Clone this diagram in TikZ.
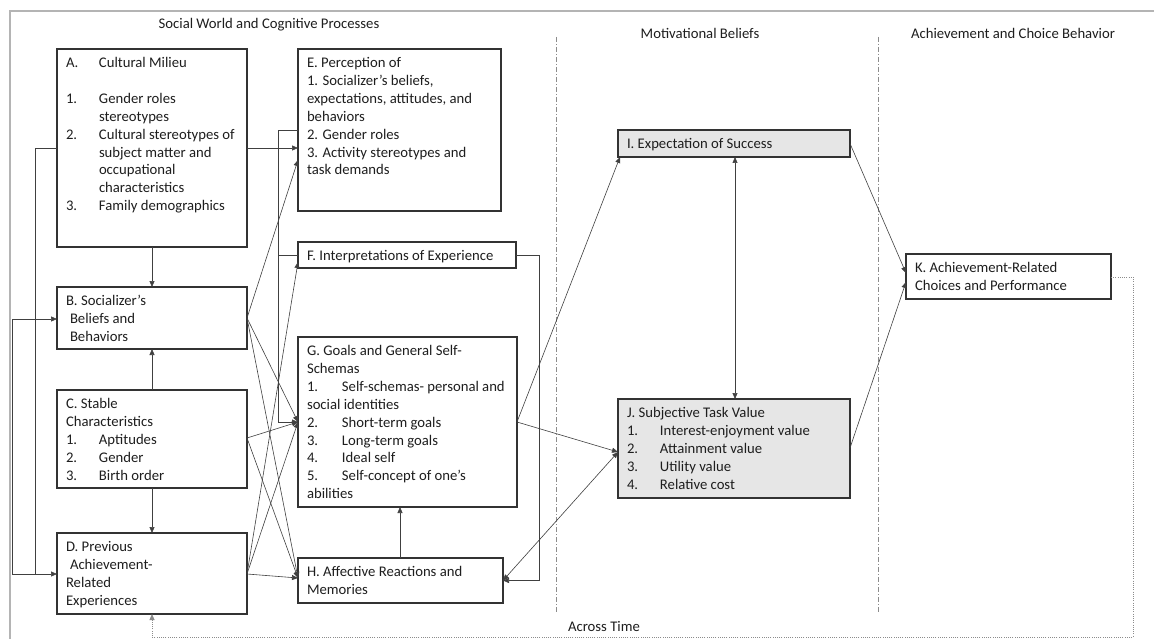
\documentclass[tikz,border=0pt]{standalone}
\usepackage{fontspec}
\setmainfont{Carlito}
\usetikzlibrary{arrows.meta,calc}
\definecolor{framec}{HTML}{B4B4B4}
\definecolor{boxc}{HTML}{333333}
\definecolor{linec}{HTML}{404040}
\definecolor{fillc}{HTML}{E6E6E6}
\definecolor{sepc}{HTML}{8C8C8C}
\definecolor{txtc}{HTML}{1E1E1E}
% box body: fixed width and height, text set from the top left
\newcommand\boxtext[3]{\makebox[#1][l]{\parbox[c][#2][t]{400pt}{\raggedright\strut#3}}}
% numbered item label in a fixed-width slot
\newcommand\itm[2][33pt]{\makebox[#1][l]{#2}}

\begin{document}
\begin{tikzpicture}[x=1pt,y=-1pt,
  font=\fontsize{14.7}{17.9}\selectfont, text=txtc,
  box/.style={draw=boxc, line width=1.2pt, anchor=north west,
    inner xsep=9pt, inner ysep=6pt, outer sep=0pt},
  shaded/.style={box, fill=fillc},
  conn/.style={draw=linec, line width=0.6pt},
  arr/.style={conn, -{Triangle[length=6pt,width=5pt]}},
  darr/.style={conn, {Triangle[length=6pt,width=5pt]}-{Triangle[length=6pt,width=5pt]}},
  heading/.style={inner sep=0pt},
  sep/.style={draw=sepc, line width=0.6pt, dash pattern=on 5pt off 2pt on 1pt off 2pt},
  timeline/.style={draw=sepc, line width=0.8pt, dash pattern=on 1pt off 1.2pt}
]
\useasboundingbox (0,0) rectangle (1154,639);
\fill[white] (0,0) rectangle (1154,639);
\draw[framec, line width=2.5pt] (10,660) -- (10,11) -- (1170,11);

% column headings
\node[heading] (hSocial) at (269,25) {Social World and Cognitive Processes};
\node[heading] (hMot) at (700,33) {Motivational Beliefs};
\node[heading] (hAch) at (1013,33) {Achievement and Choice Behavior};

% column separators
\draw[sep] (556,37) -- (556,613);
\draw[sep] (878,37) -- (878,613);

% social world boxes
\node[box] (A) at (57,49) {\boxtext{172pt}{186pt}{\itm{A.}Cultural Milieu\\[17.9pt]
  \itm{1.}Gender roles\\ \itm{}stereotypes\\
  \itm{2.}Cultural stereotypes of\\ \itm{}subject matter and\\ \itm{}occupational\\ \itm{}characteristics\\
  \itm{3.}Family demographics}};
\node[box] (B) at (57,287) {\boxtext{172pt}{50pt}{B. Socializer’s\\ \hspace*{4pt}Beliefs and\\ \hspace*{4pt}Behaviors}};
\node[box] (C) at (57,390) {\boxtext{172pt}{86pt}{C. Stable\\ Characteristics\\
  \itm{1.}Aptitudes\\ \itm{2.}Gender\\ \itm{3.}Birth order}};
\node[box] (D) at (57,533) {\boxtext{172pt}{69pt}{D. Previous\\ \hspace*{4pt}Achievement-\\ Related\\ Experiences}};

% cognitive process boxes
\node[box] (E) at (298,49) {\boxtext{185pt}{150pt}{E. Perception of\\ 1. Socializer’s beliefs,\\
  expectations, attitudes, and\\ behaviors\\ 2. Gender roles\\ 3. Activity stereotypes and\\ task demands}};
\node[box] (F) at (298,242) {\boxtext{200pt}{14pt}{F. Interpretations of Experience}};
\node[box] (G) at (298,337) {\boxtext{201pt}{158pt}{G. Goals and General Self-\\ Schemas\\
  \itm[35pt]{1.}Self-schemas- personal and\\ social identities\\
  \itm[35pt]{2.}Short-term goals\\ \itm[35pt]{3.}Long-term goals\\ \itm[35pt]{4.}Ideal self\\
  \itm[35pt]{5.}Self-concept of one’s\\ abilities}};
\node[box] (H) at (298,558) {\boxtext{187pt}{33pt}{H. Affective Reactions and\\ Memories}};

% motivational beliefs
\node[shaded] (I) at (618,130) {\boxtext{214pt}{15pt}{I. Expectation of Success}};
\node[shaded] (J) at (618,399) {\boxtext{214pt}{87pt}{J. Subjective Task Value\\
  \itm{1.}Interest-enjoyment value\\ \itm{2.}Attainment value\\ \itm{3.}Utility value\\ \itm{4.}Relative cost}};

% achievement and choice behavior
\node[box] (K) at (906,254) {\boxtext{187pt}{33pt}{K. Achievement-Related\\ Choices and Performance}};

% attachment points
\coordinate (bOut) at ($(B.north east)+(0,31)$);
\coordinate (cOut) at ($(C.north east)+(0,48)$);
\coordinate (dOut) at ($(D.north east)+(0,41)$);
\coordinate (eIn) at ($(E.north west)+(0,111)$);
\coordinate (fIn) at ($(F.north west)+(0,20)$);
\coordinate (gIn) at ($(G.north west)+(0,85)$);
\coordinate (hIn) at ($(H.north west)+(0,20)$);
\coordinate (gOut) at ($(G.north east)+(0,85)$);
\coordinate (jIn) at ($(J.north west)+(0,53)$);

% left column links
\draw[arr] (A.south) -- (B.north);
\draw[arr] (C.north) -- (B.south);
\draw[arr] (C.south) -- (D.north);
\draw[arr] ($(A.north west)+(0,99)$) -| (35,574) -- ($(D.north west)+(0,41)$);
\draw[arr] (12,574) |- ($(B.north west)+(0,32)$);
\draw[conn] (12,574) -- (35,574);
\draw[arr] ($(A.north east)+(0,99)$) -- ($(E.north west)+(0,99)$);

% crossing links into the cognitive boxes
\draw[arr] (bOut) -- (eIn);
\draw[arr] (bOut) -- (gIn);
\draw[arr] (bOut) -- (hIn);
\draw[arr] (cOut) -- (gIn);
\draw[arr] (cOut) -- (hIn);
\draw[arr] (dOut) -- (fIn);
\draw[arr] (dOut) -- (gIn);
\draw[arr] (dOut) -- (hIn);

% perception and interpretation feed goals
\draw[arr] ($(E.north west)+(0,81)$) -- ++(-20,0) |- (gIn);
\draw[conn] ($(F.north west)+(0,13)$) -- ++(-20,0);
\draw[arr] (F.east) -- ++(23,0) |- (H.east);
\draw[arr] ($(H.north west)+(102,0)$) -- ($(G.south west)+(102,0)$);

% motivational beliefs
\draw[arr] (gOut) -- ($(I.south west)+(2,0)$);
\draw[arr] (gOut) -- (jIn);
\draw[darr] (H.east) -- (jIn);
\draw[darr] ($(I.south west)+(117,0)$) -- ($(J.north west)+(117,0)$);
\draw[arr] (I.east) -- ($(K.north west)+(0,19)$);
\draw[arr] ($(J.north east)+(0,49)$) -- ($(K.north west)+(0,28)$);

% feedback across time
\draw[timeline, -{Triangle[length=6pt,width=5pt]}] ($(K.north east)+(0,23)$) -- ++(22,0) -- ++(0,360) -| (D.south);
\node[heading] (tAcross) at (604,626) {Across Time};
\end{tikzpicture}
\end{document}
